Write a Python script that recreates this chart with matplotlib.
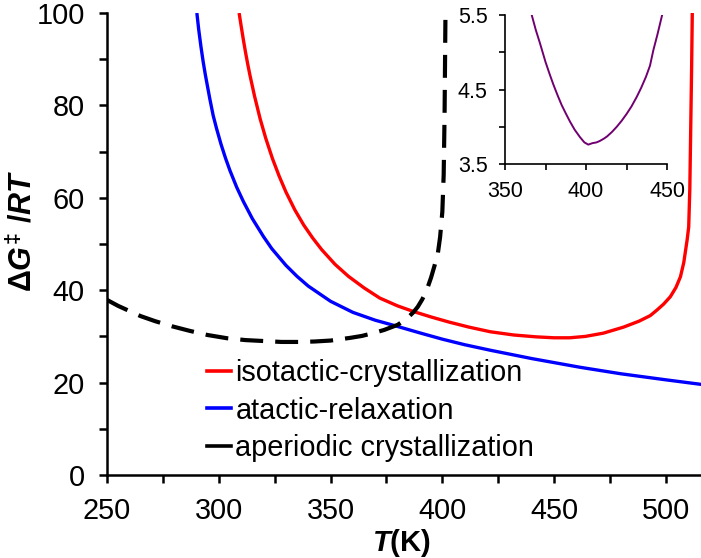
import matplotlib
matplotlib.use("Agg")
import matplotlib.pyplot as plt
from matplotlib.lines import Line2D
from matplotlib.ticker import MultipleLocator

plt.rcParams["font.family"] = ["Liberation Sans", "DejaVu Sans"]
plt.rcParams["mathtext.fontset"] = "custom"
plt.rcParams["mathtext.it"] = "Liberation Sans:italic:bold"
plt.rcParams["mathtext.rm"] = "Liberation Sans:bold"
plt.rcParams["mathtext.bf"] = "Liberation Sans:bold"

# --- data -----------------------------------------------------------------
iso_T = [309.1, 310, 311, 312, 313, 314, 316, 318.5, 321, 324, 327, 330, 334, 338, 342,
         346, 352, 358, 365, 372, 380, 387, 395, 403, 412, 421.5, 432, 442, 450, 457,
         464, 472, 481, 488, 493, 496, 499, 502, 504.5, 506.5, 508, 509.5, 510.2,
         510.7, 511.1, 511.5, 511.8]
iso_G = [100, 97.2, 94.2, 91.4, 88.8, 86.4, 82.0, 77.1, 72.9, 68.5, 64.7, 61.3, 57.4, 54.1,
         51.3, 48.8, 45.6, 43.0, 40.5, 38.3, 36.6, 35.4, 34.2, 33.1, 32.0, 31.0, 30.3,
         29.9, 29.7, 29.7, 30.0, 30.7, 32.0, 33.3, 34.5, 35.7, 37.0, 38.6, 40.6, 42.9,
         46.0, 50.9, 53.7, 62, 75, 88, 100]

ata_T = [290.2, 291, 292, 293, 294, 295, 296, 297.5, 299, 301, 303, 305, 308, 311, 315,
         320, 323.7, 330, 335, 340, 350, 360, 370, 376.7, 380, 390, 400, 410, 421.5,
         440, 461.8, 480, 500, 516]
ata_G = [100, 96.5, 92.8, 89.5, 86.6, 84.0, 81.4, 77.8, 75.0, 71.6, 68.6, 65.9, 62.3,
         59.2, 55.5, 51.6, 49.0, 45.4, 43.0, 40.9, 37.6, 35.2, 33.5, 32.6, 32.15, 30.75,
         29.4, 28.2, 27.0, 25.2, 23.3, 21.9, 20.6, 19.6]

ape_T = [250, 255, 260, 265, 271.5, 279, 287, 295, 303.7, 312, 320, 328, 336.4, 343, 350,
         359, 364, 369, 374, 380, 384, 387, 389, 391, 393, 395, 396.5, 398, 399, 400,
         400.6, 401, 401.4]
ape_G = [37.9, 36.6, 35.5, 34.4, 33.3, 32.2, 31.2, 30.3, 29.6, 29.2, 29.0, 28.8, 28.8,
         28.9, 29.1, 29.7, 30.1, 30.7, 31.4, 32.5, 33.8, 35.2, 36.4, 38.0, 40.0, 42.8,
         45.3, 48.0, 51.5, 57, 65, 78, 100]

inset_T = [366.5, 369, 371.6, 375, 377.5, 379.8, 382.5, 385, 387.5, 390.1, 393, 396.3,
           399, 401.4, 404, 406.5, 408.6, 411, 413, 416, 419, 422, 425, 428, 431.3, 434,
           437, 439.5, 441.6, 444, 447]
inset_G = [5.5, 5.30, 5.12, 4.87, 4.71, 4.57, 4.42, 4.29, 4.18, 4.07, 3.96, 3.86, 3.79,
           3.76, 3.78, 3.79, 3.81, 3.84, 3.87, 3.93, 4.00, 4.08, 4.17, 4.27, 4.40, 4.52,
           4.67, 4.82, 5.03, 5.23, 5.5]

labels = ["isotactic-crystallization", "atactic-relaxation", "aperiodic crystallization"]
x_ticks = [250, 300, 350, 400, 450, 500]
y_ticks = [0, 20, 40, 60, 80, 100]

# --- figure ---------------------------------------------------------------
W, H = 701, 558
fig = plt.figure(figsize=(W / 100, H / 100), dpi=100)
ax = fig.add_axes([107 / W, (H - 475) / H, (W - 107) / W, (475 - 13) / H])

ax.plot(iso_T, iso_G, color="#ff0000", lw=2.4, solid_capstyle="butt")
ax.plot(ata_T, ata_G, color="#0000ff", lw=2.4, solid_capstyle="butt")
ax.plot(ape_T, ape_G, color="black", lw=3, linestyle=(0, (5.5, 2.9)))

ax.set_xlim(250, 515.7)
ax.set_ylim(0, 100)
ax.set_xticks(x_ticks)
ax.set_yticks(y_ticks)
ax.xaxis.set_minor_locator(MultipleLocator(25))
ax.yaxis.set_minor_locator(MultipleLocator(10))
for s in ("top", "right"):
    ax.spines[s].set_visible(False)
for s in ("left", "bottom"):
    ax.spines[s].set_linewidth(1.8)
ax.tick_params(which="both", direction="out", length=6, width=1.8)
ax.tick_params(which="major", labelsize=20.8, pad=10)
ax.tick_params(which="minor", labelleft=False, labelbottom=False)

ax.set_xlabel(r"$\mathit{T}$(K)", fontsize=21, fontweight="bold", va="top")
ax.xaxis.set_label_coords(0.495, -0.113)
ax.set_ylabel(r"$\mathit{ΔG}^{\mathit{‡}}\mathit{\ /RT}$", fontsize=22, fontweight="bold")
ax.yaxis.set_label_coords(-0.115, 0.53)

handles = [Line2D([], [], color=c, lw=2.6) for c in ("#ff0000", "#0000ff", "black")]
leg = fig.legend(handles, labels, loc="upper left", bbox_to_anchor=(207 / W, 1 - 359 / H),
                 frameon=False, fontsize=20.8, handlelength=0.82, handletextpad=0.16,
                 labelspacing=0.33, borderpad=0, borderaxespad=0)

# --- inset ----------------------------------------------------------------
axi = fig.add_axes([505 / W, (H - 164) / H, 162 / W, 149 / H])
axi.plot(inset_T, inset_G, color="#700070", lw=1.4)
axi.set_xlim(350, 450)
axi.set_ylim(3.5, 5.5)
axi.set_xticks([350, 375, 400, 425, 450])
axi.set_xticklabels(["350", "", "400", "", "450"])
axi.set_yticks([3.5, 4.0, 4.5, 5.0, 5.5])
axi.set_yticklabels(["3.5", "", "4.5", "", "5.5"])
for s in ("top", "right"):
    axi.spines[s].set_visible(False)
for s in ("left", "bottom"):
    axi.spines[s].set_linewidth(1.2)
axi.tick_params(direction="out", length=4.5, width=1.2, labelsize=15.5, pad=8)
axi.patch.set_alpha(0)

fig.savefig("out.png", dpi=100)
